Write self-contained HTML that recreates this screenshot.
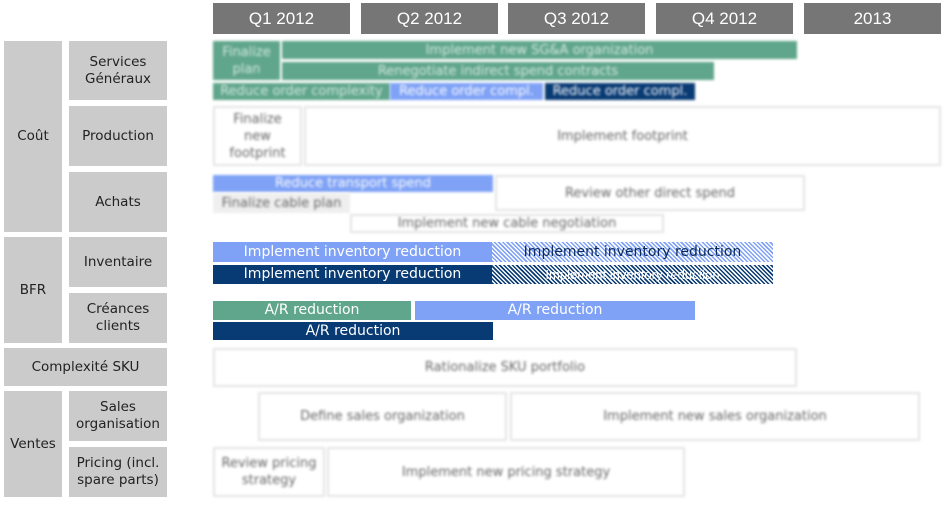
<!DOCTYPE html>
<html><head><meta charset="utf-8"><style>
body{margin:0;width:948px;height:509px;background:#fff;position:relative;overflow:hidden;font-family:"Liberation Sans","DejaVu Sans",sans-serif;}
.b{position:absolute;display:flex;align-items:center;justify-content:center;text-align:center;box-sizing:border-box;line-height:17px;}
.h{background:#767676;color:#fff;font-size:17px;}
.l{background:#cbcbcb;color:#222;font-size:13.5px;font-family:"DejaVu Sans",sans-serif;}
.bl{filter:blur(1.3px);font-size:13px;font-family:"DejaVu Sans",sans-serif;}
.g{background:#60a68c;color:#d5e9e0;}
.lb{background:#7fa2f6;color:#fff;}
.nv{background:#083a74;color:#fff;}
.w{background:#fff;border:2px solid #e4e4e4;color:#666;}
.t{font-size:14px;font-family:"DejaVu Sans",sans-serif;}
</style></head><body>
<div class="b h" style="left:213px;top:3px;width:137px;height:31px">Q1 2012</div>
<div class="b h" style="left:361px;top:3px;width:137px;height:31px">Q2 2012</div>
<div class="b h" style="left:508px;top:3px;width:137px;height:31px">Q3 2012</div>
<div class="b h" style="left:656px;top:3px;width:137px;height:31px">Q4 2012</div>
<div class="b h" style="left:804px;top:3px;width:137px;height:31px">2013</div>

<div class="b l" style="left:4px;top:41px;width:58px;height:191px">Coût</div>
<div class="b l" style="left:4px;top:237px;width:58px;height:106px">BFR</div>
<div class="b l" style="left:4px;top:348px;width:163px;height:38px">Complexité SKU</div>
<div class="b l" style="left:4px;top:391px;width:58px;height:106px">Ventes</div>
<div class="b l" style="left:69px;top:41px;width:98px;height:59px">Services<br>Généraux</div>
<div class="b l" style="left:69px;top:106px;width:98px;height:60px">Production</div>
<div class="b l" style="left:69px;top:172px;width:98px;height:60px">Achats</div>
<div class="b l" style="left:69px;top:237px;width:98px;height:50px">Inventaire</div>
<div class="b l" style="left:69px;top:293px;width:98px;height:50px">Créances<br>clients</div>
<div class="b l" style="left:69px;top:391px;width:98px;height:50px">Sales<br>organisation</div>
<div class="b l" style="left:69px;top:447px;width:98px;height:50px">Pricing (incl.<br>spare parts)</div>

<div class="b bl g" style="left:213px;top:41px;width:67px;height:39px">Finalize<br>plan</div>
<div class="b bl g" style="left:282px;top:41px;width:515px;height:18px">Implement new SG&amp;A organization</div>
<div class="b bl g" style="left:282px;top:62px;width:432px;height:18px">Renegotiate indirect spend contracts</div>
<div class="b bl g" style="left:213px;top:83px;width:177px;height:17px">Reduce order complexity</div>
<div class="b bl lb" style="left:390px;top:83px;width:153px;height:17px">Reduce order compl.</div>
<div class="b bl nv" style="left:545px;top:83px;width:150px;height:17px">Reduce order compl.</div>

<div class="b bl w" style="left:213px;top:106px;width:89px;height:60px">Finalize<br>new<br>footprint</div>
<div class="b bl w" style="left:304px;top:106px;width:637px;height:60px">Implement footprint</div>
<div class="b bl lb" style="left:213px;top:175px;width:280px;height:17px">Reduce transport spend</div>
<div class="b bl w" style="left:495px;top:175px;width:310px;height:36px">Review other direct spend</div>
<div class="b bl" style="left:213px;top:193px;width:137px;height:20px;background:#efefef;color:#666">Finalize cable plan</div>
<div class="b bl w" style="left:350px;top:214px;width:314px;height:19px">Implement new cable negotiation</div>

<div class="b t lb" style="left:213px;top:242px;width:279px;height:20px">Implement inventory reduction</div>
<div class="b t" style="left:492px;top:242px;width:281px;height:20px;color:#0a2a5a;background:repeating-linear-gradient(45deg,#7fa2f6 0 1.5px,#fff 1.5px 3px)">Implement inventory reduction</div>
<div class="b t nv" style="left:213px;top:265px;width:279px;height:19px">Implement inventory reduction</div>
<div class="b" style="left:492px;top:265px;width:281px;height:19px;font-size:13px;color:#fff;background:repeating-linear-gradient(45deg,#083a74 0 1.5px,#fff 1.5px 3px)">Implement inventory reduction</div>

<div class="b t g" style="left:213px;top:301px;width:198px;height:19px;color:#fff">A/R reduction</div>
<div class="b t lb" style="left:415px;top:301px;width:280px;height:19px">A/R reduction</div>
<div class="b t nv" style="left:213px;top:322px;width:280px;height:18px">A/R reduction</div>

<div class="b bl w" style="left:213px;top:348px;width:584px;height:39px">Rationalize SKU portfolio</div>
<div class="b bl w" style="left:258px;top:392px;width:249px;height:49px">Define sales organization</div>
<div class="b bl w" style="left:510px;top:392px;width:410px;height:49px">Implement new sales organization</div>
<div class="b bl w" style="left:213px;top:447px;width:112px;height:50px">Review pricing<br>strategy</div>
<div class="b bl w" style="left:327px;top:447px;width:358px;height:50px">Implement new pricing strategy</div>
</body></html>
